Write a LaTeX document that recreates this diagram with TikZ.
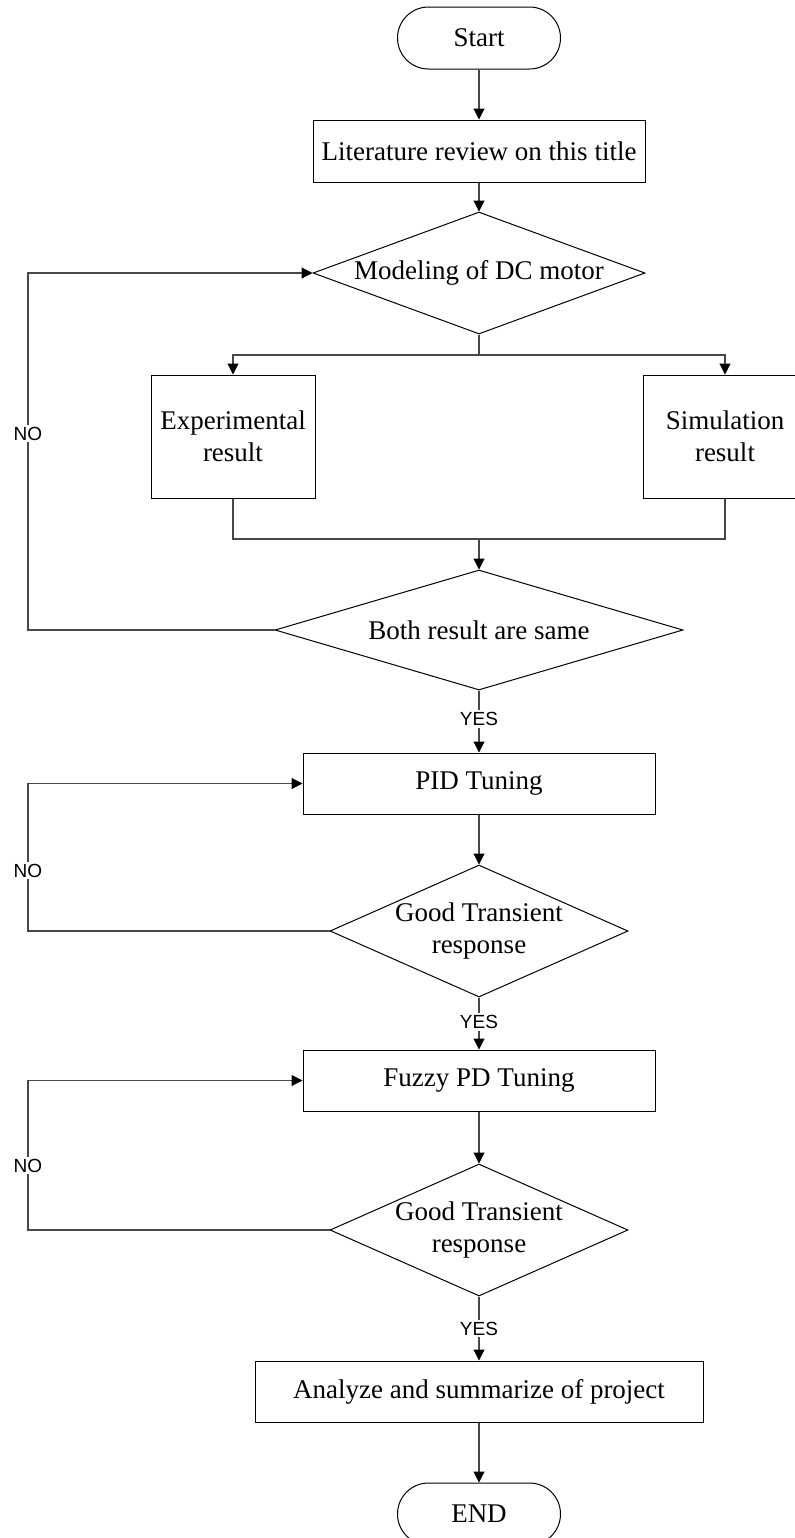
\documentclass[tikz,border=0pt]{standalone}
\usepackage{fontspec}
\setmainfont{Liberation Serif}
\newfontfamily\labelfont{Liberation Sans}
\usetikzlibrary{arrows.meta,shapes.geometric}
\definecolor{flowink}{HTML}{000000}
\definecolor{flowline}{HTML}{474747}
\tikzset{
  flowtext/.style={font=\fontsize{13.5}{16}\selectfont, text=flowink, align=center},
  termbox/.style={flowtext, draw=flowink, line width=.5pt, rounded corners=15.5pt,
    minimum width=81.5pt, minimum height=31pt, inner sep=0pt},
  stepbox/.style={flowtext, draw=flowink, line width=.5pt, inner sep=0pt},
  decisionbox/.style={flowtext, diamond, draw=flowink, line width=.5pt, inner sep=-2pt},
  answer/.style={font=\labelfont\fontsize{9.5}{10}\selectfont, text=flowink,
    fill=white, inner sep=1pt},
  flow/.style={-{Triangle[length=5.5pt,width=5.5pt,color=flowink]}, draw=flowline, line width=.55pt},
  plainflow/.style={draw=flowline, line width=.55pt}
}

\begin{document}
\begin{tikzpicture}[x=.5pt,y=-.5pt]
  \useasboundingbox (0,0) rectangle (794,1538);
  % main column
  \node[termbox] (start) at (479,38) {Start};
  \node[stepbox, minimum width=166pt, minimum height=31pt] (lit) at (479,151) {Literature review on this title};
  \node[decisionbox, minimum width=166pt, minimum height=61pt, aspect=2.7] (model) at (479,273) {Modeling of DC motor};
  \node[stepbox, minimum width=82pt, minimum height=61.5pt] (exp) at (233,436.5) {Experimental\\result};
  \node[stepbox, minimum width=82pt, minimum height=61.5pt] (sim) at (725,436.5) {Simulation\\result};
  \node[decisionbox, minimum width=204pt, minimum height=60pt, aspect=3.4] (same) at (479,630) {Both result are same};
  \node[stepbox, minimum width=176pt, minimum height=30.5pt] (pid) at (479,783.5) {PID Tuning};
  \node[decisionbox, minimum width=149pt, minimum height=66pt, aspect=2.26] (good1) at (479,931) {Good Transient\\response};
  \node[stepbox, minimum width=176pt, minimum height=30.5pt] (fuzzy) at (479,1080.5) {Fuzzy PD Tuning};
  \node[decisionbox, minimum width=149pt, minimum height=66pt, aspect=2.26] (good2) at (479,1230) {Good Transient\\response};
  \node[stepbox, minimum width=224pt, minimum height=30.5pt] (sum) at (479,1391.5) {Analyze and summarize of project};
  \node[termbox] (finish) at (479,1514) {END};

  \coordinate (fork) at (479,355);
  \coordinate (join) at (479,539);
  \coordinate (rail) at (28,0);

  \draw[flow] (start) -- (lit);
  \draw[flow] (lit) -- (model);
  \draw[plainflow] (model) -- (fork);
  \draw[flow] (fork) -| (exp);
  \draw[flow] (fork) -| (sim);
  \draw[plainflow] (exp) |- (join);
  \draw[plainflow] (sim) |- (join);
  \draw[flow] (join) -- (same);
  \draw[flow] (same.west) -- (same.west -| rail) -- node[answer, pos=.55] {NO} (model.west -| rail) -- (model.west);
  \draw[flow] (same) -- node[answer, pos=.46] {YES} (pid);

  \draw[flow] (pid) -- (good1);
  \draw[flow] (good1.west) -- (good1.west -| rail) -- node[answer, pos=.41] {NO} (pid.west -| rail) -- (pid.west);
  \draw[flow] (good1) -- node[answer, pos=.47] {YES} (fuzzy);

  \draw[flow] (fuzzy) -- (good2);
  \draw[flow] (good2.west) -- (good2.west -| rail) -- node[answer, pos=.43] {NO} (fuzzy.west -| rail) -- (fuzzy.west);
  \draw[flow] (good2) -- node[answer, pos=.5] {YES} (sum);
  \draw[flow] (sum) -- (finish);
\end{tikzpicture}
\end{document}
